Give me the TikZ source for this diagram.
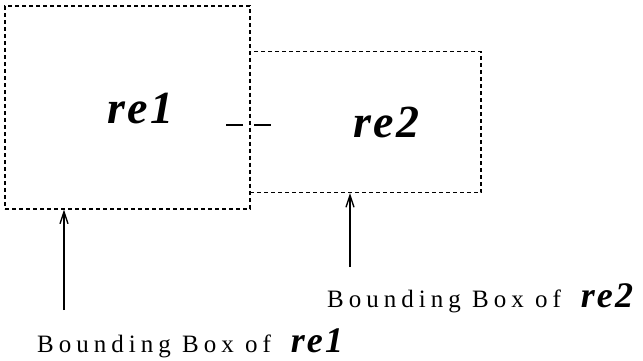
\documentclass[tikz,border=0pt]{standalone}
\usepackage{fontspec}
\setmainfont{Liberation Serif}
\newfontfamily\lblfont[LetterSpace=20]{Liberation Serif}
\newfontfamily\refont[LetterSpace=6]{Liberation Serif}
\usetikzlibrary{arrows.meta}
\begin{document}
\begin{tikzpicture}[x=1pt,y=-1pt,
  bbox/.style={draw=black,line width=1.1pt,dash pattern=on 4pt off 3pt,inner sep=0pt},
  bigname/.style={inner sep=0pt,font=\refont\bfseries\itshape\fontsize{46}{50}\selectfont},
  lbl/.style={inner sep=0pt,font=\lblfont\fontsize{25}{28}\selectfont},
  arr/.style={line width=1.3pt,-{Straight Barb[length=12pt,width=8pt,line width=1.4pt]}},
  tick/.style={line width=1.3pt}]
\useasboundingbox (0,0) rectangle (643,360);
\node[bbox,minimum width=245pt,minimum height=203pt] (box1) at (127.5,107.5) {};
\node[bbox,minimum width=231pt,minimum height=141pt] (box2) at (365.5,122) {};
\node[bigname,anchor=base west] (n1) at (107,123) {re1};
\node[bigname,anchor=base west] (n2) at (353,137) {re2};
\coordinate (ta) at (226,125);
\coordinate (tb) at (243,125);
\coordinate (tc) at (254,125);
\coordinate (td) at (271,125);
\draw[tick] (ta) -- (tb);
\draw[tick] (tc) -- (td);
\node[lbl,anchor=base west] (l1) at (37,352) {Bounding Box of\hspace{20pt}\refont\bfseries\itshape\fontsize{36}{38}\selectfont re1};
\node[lbl,anchor=base west] (l2) at (327,307) {Bounding Box of\hspace{20pt}\refont\bfseries\itshape\fontsize{36}{38}\selectfont re2};
\coordinate (s1) at (64,310);
\coordinate (s2) at (350,267);
\draw[arr] (s1) -- (s1 |- box1.south);
\draw[arr] (s2) -- (s2 |- box2.south);
\end{tikzpicture}
\end{document}
